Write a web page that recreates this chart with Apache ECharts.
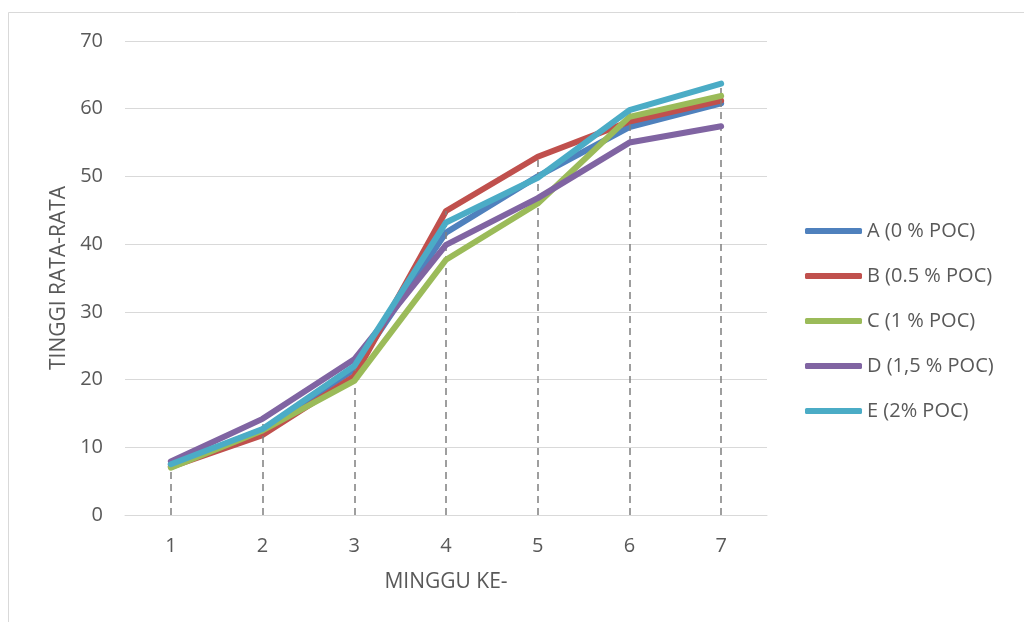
<!DOCTYPE html>
<html><head><meta charset="utf-8">
<script src="https://cdn.jsdelivr.net/npm/echarts@6/dist/echarts.min.js"></script>
<style>html,body{margin:0;padding:0;background:#fff}#c{width:1024px;height:622px}</style>
</head><body><div id="c"></div>
<script>
const categories = ['1','2','3','4','5','6','7'];
const seriesNames = ['A (0 % POC)','B (0.5 % POC)','C (1 % POC)','D (1,5 % POC)','E (2% POC)'];
const valuesA = [7.4, 12.6, 21.5, 41.7, 50.0, 57.3, 60.8];
const valuesB = [7.1, 11.8, 20.5, 44.9, 52.9, 58.1, 61.2];
const valuesC = [7.0, 12.5, 19.8, 37.7, 46.0, 58.8, 61.9];
const valuesD = [7.9, 14.2, 23.0, 39.9, 46.8, 55.0, 57.4];
const valuesE = [7.5, 12.7, 22.0, 43.2, 49.8, 59.8, 63.7];
const colors = ['#4F81BD','#C0504D','#9BBB59','#8064A2','#4BACC6'];
const allValues = [valuesA, valuesB, valuesC, valuesD, valuesE];
const font = "'Open Sans',sans-serif";
const txt = '#595959';

const maxes = categories.map((c,i)=>Math.max(...allValues.map(v=>v[i])));
const dropLines = categories.map((c,i)=>[{coord:[i,0]},{coord:[i,maxes[i]]}]);

const series = allValues.map((vals,k)=>({
  name: seriesNames[k], type:'line', data: vals, symbol:'none', smooth:false,
  lineStyle:{width:6,color:colors[k],cap:'round',join:'round'},
  itemStyle:{color:colors[k]}, z: 3+k,
  animation:false
}));
series.unshift({
  name:'drop', type:'line', data:[], symbol:'none', z:2, silent:true,
  markLine:{symbol:['none','none'], silent:true, animation:false, label:{show:false},
    lineStyle:{color:'#7f7f7f',type:[7,5],width:1.5}, data: dropLines}
});

const chart = echarts.init(document.getElementById('c'));
chart.setOption({
  animation:false,
  backgroundColor:'#fff',
  graphic:[{type:'rect',shape:{x:8.5,y:12.5,width:1100,height:700},style:{fill:'none',stroke:'#d9d9d9',lineWidth:1},silent:true,z:-10}],
  grid:{left:125,right:257,top:41,bottom:107},
  legend:{
    data: seriesNames, orient:'vertical', left:800, top:216, itemGap:25,
    itemWidth:57, itemHeight:6, icon:'roundRect',
    textStyle:{color:txt,fontSize:20,fontFamily:font}
  },
  xAxis:{
    type:'category', data:categories, boundaryGap:true,
    name:'MINGGU KE-', nameLocation:'middle', nameGap:57,
    nameTextStyle:{color:txt,fontSize:21,fontFamily:font},
    axisLine:{show:true,lineStyle:{color:'#d9d9d9',width:1}},
    axisTick:{show:false},
    axisLabel:{color:txt,fontSize:20,fontFamily:font,margin:21}
  },
  yAxis:{
    type:'value', min:0, max:70, interval:10,
    name:'TINGGI RATA-RATA', nameLocation:'middle', nameGap:55, nameRotate:90,
    nameTextStyle:{color:txt,fontSize:21,fontFamily:font},
    axisLine:{show:false}, axisTick:{show:false},
    axisLabel:{color:txt,fontSize:20,fontFamily:font,margin:22},
    splitLine:{lineStyle:{color:'#d9d9d9',width:1}}
  },
  series: series
});
</script></body></html>
